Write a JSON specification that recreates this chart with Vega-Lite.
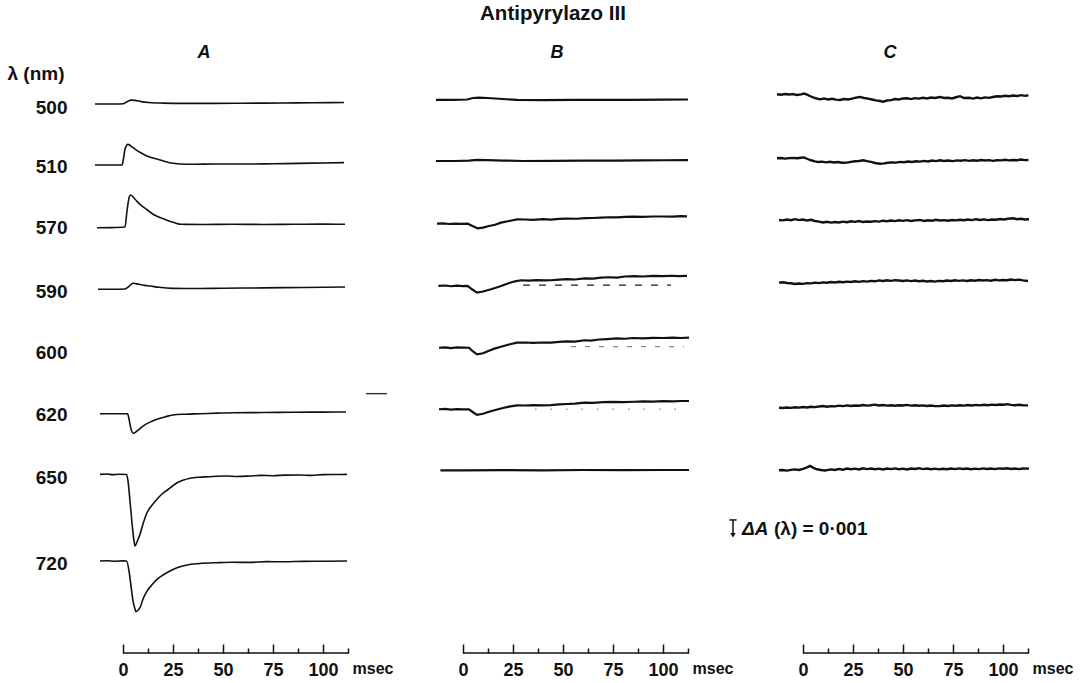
{
  "$schema": "https://vega.github.io/schema/vega-lite/v6.json",
  "padding": {"left": 7, "top": 3, "right": 5, "bottom": 5},
  "config": {"view": {"stroke": null}, "font": "Liberation Sans", "axis": {"grid": false}},
  "title": {"text": "Antipyrylazo III", "fontSize": 20.5, "fontWeight": "bold", "color": "#111", "anchor": "middle", "dx": 13, "offset": 20},
  "spacing": 86,
  "bounds": "flush",
  "datasets": {
    "traces": [
      {"p": "A", "wl": "500", "t": [-14,-8,-3,0,2,4,6,9,13,20,30,45,60,80,95,110.5], "v": [36.6,36.6,36.6,36.62,36.75,36.86,36.84,36.76,36.7,36.66,36.64,36.64,36.65,36.67,36.68,36.7]},
      {"p": "A", "wl": "510", "t": [-14,-7,-0.5,0.3,1,2.5,5,7.5,10,13,17,21,25,32,40,50,62,75,88,100,110.5], "v": [32.53,32.53,32.53,33.0,33.6,33.91,33.69,33.46,33.27,33.08,32.93,32.77,32.65,32.58,32.59,32.6,32.6,32.62,32.64,32.67,32.69]},
      {"p": "A", "wl": "570", "t": [-13,-6,1,2,3,3.8,6,8.5,12,15,18.5,22,25.5,29,40,55,70,85,100,111], "v": [28.35,28.36,28.4,29.47,30.33,30.53,30.25,29.91,29.55,29.25,29.03,28.85,28.7,28.58,28.57,28.58,28.57,28.58,28.59,28.58]},
      {"p": "A", "wl": "590", "t": [-12.5,-5,1,3,5,8,11,13.5,18,25,35,50,70,90,111], "v": [24.25,24.25,24.27,24.45,24.65,24.58,24.51,24.47,24.38,24.31,24.3,24.32,24.34,24.37,24.4]},
      {"p": "A", "wl": "620", "t": [-11.5,-5,2.3,3,4,5.2,7,10,13,17,21,25,31,38.5,47,55,70,85,100,111.5], "v": [15.95,15.95,15.95,15.6,14.93,14.65,14.8,15.13,15.36,15.58,15.74,15.87,15.92,15.95,15.99,16.02,16.03,16.05,16.06,16.07]},
      {"p": "A", "wl": "650", "t": [-11.5,-8,-5,-2,1.8,2.5,3.5,4.5,5.5,6,7,8.5,10,12,14.5,17,19.5,22,24.5,27,30,33.5,38,43,47,52,57,63.5,69,75,81,88.5,94,100,106,112], "v": [11.91,11.93,11.89,11.92,11.9,11.47,10.13,8.67,7.47,7.13,7.4,7.91,8.6,9.35,9.85,10.25,10.6,10.85,11.1,11.35,11.52,11.65,11.72,11.75,11.78,11.8,11.77,11.8,11.84,11.82,11.86,11.87,11.84,11.89,11.9,11.91]},
      {"p": "A", "wl": "720", "t": [-11.5,-8,-4,0,1.8,3,4,5,6,6.5,7.5,8.5,10,12,14.5,17,20,23.5,27,32,38,47,55,63,72,80,90,100,112], "v": [6.13,6.15,6.12,6.14,6.13,5.47,4.47,3.47,2.93,2.75,2.85,3.02,3.6,4.13,4.55,4.91,5.2,5.47,5.68,5.87,5.96,6.02,6.05,6.04,6.09,6.08,6.11,6.12,6.13]},
      {"p": "B", "wl": "500", "t": [-13.5,-5,2,5,8,12,18,27,40,55,70,85,100,112.5], "v": [36.87,36.87,36.9,37.0,37.02,37.0,36.95,36.87,36.86,36.88,36.87,36.88,36.89,36.9]},
      {"p": "B", "wl": "510", "t": [-13.5,-4,3,7,12,20,30,45,60,75,90,100,112.5], "v": [32.8,32.8,32.82,32.87,32.86,32.83,32.8,32.81,32.82,32.83,32.84,32.85,32.86]},
      {"p": "B", "wl": "570", "t": [-13,-10,-7,-4,-1,2.3,5,7.3,10,13,16,19,23,27,31,35,40,44,48,52,57,61,65,69,73,77,81,85.5,90,95,100,105,109,112], "v": [28.62,28.64,28.6,28.63,28.61,28.62,28.45,28.31,28.36,28.47,28.55,28.69,28.8,28.91,28.9,28.88,28.92,28.89,28.94,28.96,28.95,28.99,29.0,29.02,29.05,29.04,29.08,29.09,29.07,29.1,29.1,29.09,29.12,29.11]},
      {"p": "B", "wl": "590", "t": [-12.3,-9,-6,-3,0,2.3,4.5,7,10,14,18,22,26,29,33,37,41,44,48,52,56,60.7,65,69,73,77,81,85.7,90,95,100,104,108,112], "v": [24.47,24.5,24.45,24.49,24.46,24.48,24.25,24.02,24.1,24.25,24.42,24.62,24.78,24.85,24.83,24.86,24.84,24.85,24.89,24.92,24.9,24.98,24.96,25.02,25.05,25.03,25.1,25.13,25.1,25.14,25.12,25.15,25.12,25.14]},
      {"p": "B", "wl": "600", "t": [-12,-9,-6,-3,0,3,5,7,10,13,15.7,19,23,27,31,35,40,44,48,52,56,60.7,64,68,72,77,81,85,90,95,100,105,109,113], "v": [20.35,20.38,20.33,20.37,20.36,20.35,20.1,19.91,19.98,20.15,20.29,20.42,20.57,20.69,20.7,20.67,20.7,20.69,20.74,20.78,20.76,20.85,20.82,20.9,20.93,20.98,20.95,21.0,20.97,21.01,21.0,21.03,21.0,21.02]},
      {"p": "B", "wl": "620", "t": [-12,-9,-6,-3,0,3,5,7,10,13,15.7,19,23,27,31,35,40,44,48,52,56,60.7,65,70,75,80,85.7,90,95,100,105,109,113], "v": [16.25,16.27,16.23,16.26,16.24,16.25,16.05,15.87,15.95,16.08,16.18,16.3,16.42,16.51,16.5,16.53,16.51,16.53,16.58,16.6,16.62,16.69,16.67,16.72,16.74,16.73,16.75,16.77,16.76,16.79,16.78,16.8,16.8]},
      {"p": "B", "wl": "650", "t": [-11.3,0,20,40,60,80,100,113], "v": [12.18,12.18,12.19,12.18,12.2,12.19,12.2,12.2]},
      {"p": "C", "wl": "500", "t": [-13,-11,-9,-7,-5,-3,-1,0.5,2,4,6,8.5,10.5,12.5,14.5,16.5,18.5,20.5,22.5,24.5,26.5,28.5,30.5,32.5,34.5,36.5,38.5,40,42,44,46,48,50,52,54,56,58,60,62,64,66,68.5,70.5,72.5,74.5,76.5,78.5,80.5,83,85,87,89,91,93,95,97,99,101,103,105,107,109,111,112.7], "v": [37.25,37.22,37.27,37.23,37.26,37.2,37.24,37.3,37.22,37.1,37.0,36.91,36.97,36.9,36.95,36.89,36.87,36.93,36.9,36.96,37.03,37.07,37.0,36.96,36.9,36.84,36.8,36.75,36.83,36.86,36.93,36.9,36.97,36.98,36.93,36.99,36.96,37.02,36.97,37.03,37.0,37.07,37.0,37.02,36.97,37.05,37.12,37.0,37.02,36.96,37.03,36.98,37.04,37.01,37.07,37.12,37.1,37.15,37.12,37.17,37.13,37.19,37.14,37.18]},
      {"p": "C", "wl": "510", "t": [-13,-11,-9,-7,-5,-3,-1,0.5,2,4,6,7.7,9.5,11.5,13.5,15.5,17.5,19.5,22,24,26,28,30,32,34,36,38.5,40.5,42.5,44.5,46.5,48.5,50.5,52.5,54.5,56.5,58.5,60.5,62.5,64.5,66.5,68.5,70.5,72.5,75,77,79,81,83,85,87,89,91,93,95,97,99,101,103,105,107,109,111,112.7], "v": [32.98,33.0,32.96,32.99,33.01,32.98,33.02,33.04,32.95,32.85,32.78,32.73,32.76,32.71,32.75,32.7,32.73,32.68,32.69,32.74,32.78,32.8,32.85,32.79,32.74,32.67,32.62,32.64,32.68,32.71,32.69,32.74,32.72,32.77,32.73,32.78,32.76,32.81,32.77,32.83,32.79,32.85,32.8,32.83,32.79,32.84,32.82,32.86,32.81,32.85,32.82,32.87,32.83,32.86,32.81,32.85,32.84,32.88,32.84,32.87,32.85,32.9,32.86,32.87]},
      {"p": "C", "wl": "570", "t": [-12,-10,-8,-6,-4,-2,0,2,4,6,8,10,12,14,16,18,20,22,24,26,28,30,32,34,36,38,40,42,44,46,48,50,52,54,56,58.5,60.5,62.5,64.5,66.5,68.5,70.5,72.5,74.5,76.5,78.5,80.5,82.5,84.5,86.5,88.5,90.5,92.5,94.5,96.5,98.5,100.5,102.5,105,107,109,111,113], "v": [28.87,28.84,28.9,28.85,28.92,28.86,28.9,28.83,28.88,28.8,28.76,28.7,28.75,28.69,28.73,28.7,28.76,28.72,28.78,28.74,28.8,28.73,28.77,28.75,28.79,28.76,28.82,28.78,28.83,28.79,28.85,28.81,28.86,28.8,28.84,28.87,28.8,28.85,28.82,28.88,28.83,28.86,28.82,28.87,28.84,28.88,28.85,28.9,28.86,28.92,28.87,28.91,28.86,28.9,28.88,28.93,28.9,28.95,28.98,28.92,28.95,28.9,28.92]},
      {"p": "C", "wl": "590", "t": [-12,-10,-8,-6,-4,-2,0,2,4,6,8,10,12,14,16,18,20,22,24,26,28,30,32,34,36,38,40,42,44,46,48,50,52,54,56,58,60,62,64,66,68,70,72,74,76,78,80,82,84,86,88,90,92,94,96,98,100,102,104,106,108,110,112.5], "v": [24.69,24.72,24.67,24.65,24.6,24.63,24.61,24.66,24.64,24.69,24.66,24.71,24.68,24.73,24.7,24.75,24.72,24.76,24.73,24.78,24.74,24.79,24.76,24.81,24.78,24.84,24.8,24.85,24.81,24.86,24.83,24.8,24.84,24.79,24.83,24.78,24.82,24.77,24.8,24.76,24.81,24.78,24.83,24.8,24.85,24.81,24.84,24.8,24.85,24.82,24.87,24.83,24.86,24.82,24.88,24.84,24.87,24.85,24.9,24.86,24.89,24.84,24.8]},
      {"p": "C", "wl": "620", "t": [-12,-10,-8,-6,-4,-2,0,2,4,6,8,10,12,14,16,18,20,22,24,26,28,30,32,34,36,38,40,42,44,46,48,50,52,54,56,58,60,62,64,66,68.5,70.5,72.5,74.5,76.5,78.5,80.5,82.5,84.5,86.5,88.5,90.5,92.5,94.5,96.5,98.5,100.5,102,104,106,108,110,112.5], "v": [16.35,16.33,16.37,16.34,16.38,16.36,16.4,16.37,16.42,16.39,16.43,16.47,16.42,16.46,16.44,16.49,16.46,16.51,16.47,16.5,16.48,16.53,16.49,16.52,16.56,16.5,16.53,16.49,16.52,16.48,16.52,16.5,16.54,16.49,16.52,16.48,16.51,16.47,16.5,16.46,16.47,16.5,16.47,16.51,16.48,16.52,16.49,16.53,16.5,16.54,16.51,16.55,16.52,16.56,16.53,16.57,16.55,16.59,16.54,16.52,16.55,16.52,16.51]},
      {"p": "C", "wl": "650", "t": [-12,-10,-8,-6,-4,-2,0,2,3.5,5,7,9,11,14,16,18,20,22,24,26,28,30,32,34,36,38,40,42,44,46,48,50,52,54,56,58,60,62,64,66,68,70,72,74,76,78,80,82,84,86,88,90,92,94,96,98,100,102,104,106,108,110,113], "v": [12.18,12.2,12.16,12.21,12.24,12.2,12.28,12.38,12.47,12.36,12.25,12.2,12.17,12.24,12.2,12.27,12.22,12.3,12.25,12.29,12.24,12.31,12.26,12.3,12.25,12.29,12.24,12.3,12.26,12.31,12.25,12.29,12.24,12.3,12.27,12.32,12.26,12.3,12.25,12.29,12.24,12.28,12.25,12.3,12.26,12.31,12.27,12.3,12.25,12.29,12.26,12.31,12.27,12.3,12.26,12.31,12.28,12.32,12.27,12.3,12.26,12.3,12.29]}
    ],
    "refs": [
      {"p": "B", "wl": "590", "kind": "dashed", "t": 30, "v": 24.53},
      {"p": "B", "wl": "590", "kind": "dashed", "t": 104, "v": 24.53},
      {"p": "B", "wl": "600", "kind": "faint", "t": 54, "v": 20.42},
      {"p": "B", "wl": "600", "kind": "faint", "t": 110.5, "v": 20.42},
      {"p": "B", "wl": "620", "kind": "dotted", "t": 36, "v": 16.25},
      {"p": "B", "wl": "620", "kind": "dotted", "t": 110, "v": 16.25},
      {"p": "A", "wl": "stray", "kind": "stray", "t": 121.5, "v": 17.29},
      {"p": "A", "wl": "stray", "kind": "stray", "t": 132, "v": 17.29}
    ],
    "axisline": [{"t0": 0, "t1": 113, "v": 0}],
    "bar": [{"t": -35, "c0": -36.8, "c1": -33.2, "top": 8.87, "bottom": 7.85}],
    "note": [
      {"part": "sym", "t": -30.5, "v": 8.27, "txt": "ΔA"},
      {"part": "val", "t": -14.5, "v": 8.27, "txt": "(λ) = 0·001"}
    ]
  },
  "hconcat": [
    {
      "width": 254, "height": 592,
      "title": {"text": "A", "fontSize": 18, "fontStyle": "italic", "fontWeight": "bold", "color": "#111", "dx": -18, "offset": -1, "frame": "group"},
      "resolve": {"axis": {"x": "independent", "y": "independent"}},
      "layer": [
        {
          "data": {"name": "traces"},
          "transform": [{"filter": "datum.p === 'A'"}, {"flatten": ["t", "v"]}],
          "mark": {"type": "line", "color": "#111", "strokeWidth": 1.6, "interpolate": "monotone", "clip": false},
          "encoding": {
            "x": {"field": "t", "type": "quantitative", "scale": {"domain": [-14, 113]},
              "axis": {"values": [0, 25, 50, 75, 100], "tickSize": -9, "tickWidth": 1.5, "tickColor": "#111", "domain": false, "grid": false, "labelFontSize": 18, "labelFontWeight": "bold", "labelColor": "#111", "labelPadding": 17, "labelFlush": false, "title": "msec", "titleFontSize": 16, "titleFontWeight": "bold", "titleColor": "#111", "titleAlign": "left", "titleBaseline": "middle", "titleX": 257, "titleY": 15}},
            "y": {"field": "v", "type": "quantitative", "scale": {"domain": [0, 39.467]},
              "axis": {"orient": "left", "values": [36.35, 32.42, 28.35, 24.13, 20.02, 15.91, 11.73, 5.95], "labelExpr": "datum.value > 34 ? '500' : datum.value > 30 ? '510' : datum.value > 26 ? '570' : datum.value > 22 ? '590' : datum.value > 18 ? '600' : datum.value > 14 ? '620' : datum.value > 9 ? '650' : '720'", "domain": false, "ticks": false, "grid": false, "labelFontSize": 19, "labelFontWeight": "bold", "labelColor": "#111", "labelPadding": 28, "labelBaseline": "middle", "title": "λ (nm)", "titleAngle": 0, "titleAlign": "left", "titleBaseline": "middle", "titleX": -88, "titleY": 12, "titleFontSize": 19, "titleFontWeight": "bold", "titleColor": "#111"}},
            "detail": {"field": "wl"}
          }
        },
        {
          "data": {"name": "axisline"},
          "mark": {"type": "rule", "color": "#111", "strokeWidth": 1.5},
          "encoding": {
            "x": {"field": "t0", "type": "quantitative", "scale": {"domain": [-14, 113]},
              "axis": {"values": [12.5, 37.5, 62.5, 87.5, 112.5], "orient": "bottom", "tickSize": -5, "tickWidth": 1.5, "tickColor": "#111", "labels": false, "domain": false, "grid": false, "title": null}},
            "x2": {"field": "t1"},
            "y": {"field": "v", "type": "quantitative", "scale": {"domain": [0, 39.467]}, "axis": null}
          }
        },
        {
          "data": {"name": "refs"},
          "transform": [{"filter": "datum.p === 'A'"}],
          "mark": {"type": "line", "color": "#333", "strokeWidth": 1.4, "clip": false},
          "encoding": {
            "x": {"field": "t", "type": "quantitative", "scale": {"domain": [-14, 113]}, "axis": null},
            "y": {"field": "v", "type": "quantitative", "scale": {"domain": [0, 39.467]}, "axis": null},
            "detail": {"field": "wl"}
          }
        }
      ]
    },
    {
      "width": 254, "height": 592,
      "title": {"text": "B", "fontSize": 18, "fontStyle": "italic", "fontWeight": "bold", "color": "#111", "dx": -5, "offset": -1, "frame": "group"},
      "resolve": {"axis": {"x": "independent"}},
      "layer": [
        {
          "data": {"name": "traces"},
          "transform": [{"filter": "datum.p === 'B'"}, {"flatten": ["t", "v"]}],
          "mark": {"type": "line", "color": "#111", "strokeWidth": 2.2, "clip": false},
          "encoding": {
            "x": {"field": "t", "type": "quantitative", "scale": {"domain": [-14, 113]},
              "axis": {"values": [0, 25, 50, 75, 100], "tickSize": -9, "tickWidth": 1.5, "tickColor": "#111", "domain": false, "grid": false, "labelFontSize": 18, "labelFontWeight": "bold", "labelColor": "#111", "labelPadding": 17, "labelFlush": false, "title": "msec", "titleFontSize": 16, "titleFontWeight": "bold", "titleColor": "#111", "titleAlign": "left", "titleBaseline": "middle", "titleX": 257, "titleY": 15}},
            "y": {"field": "v", "type": "quantitative", "scale": {"domain": [0, 39.467]}, "axis": null},
            "detail": {"field": "wl"}
          }
        },
        {
          "data": {"name": "axisline"},
          "mark": {"type": "rule", "color": "#111", "strokeWidth": 1.5},
          "encoding": {
            "x": {"field": "t0", "type": "quantitative", "scale": {"domain": [-14, 113]},
              "axis": {"values": [12.5, 37.5, 62.5, 87.5, 112.5], "orient": "bottom", "tickSize": -5, "tickWidth": 1.5, "tickColor": "#111", "labels": false, "domain": false, "grid": false, "title": null}},
            "x2": {"field": "t1"},
            "y": {"field": "v", "type": "quantitative", "scale": {"domain": [0, 39.467]}, "axis": null}
          }
        },
        {
          "data": {"name": "refs"},
          "transform": [{"filter": "datum.p === 'B'"}],
          "mark": {"type": "line", "strokeWidth": 1.3, "clip": false},
          "encoding": {
            "x": {"field": "t", "type": "quantitative", "scale": {"domain": [-14, 113]}, "axis": null},
            "y": {"field": "v", "type": "quantitative", "scale": {"domain": [0, 39.467]}, "axis": null},
            "detail": {"field": "wl"},
            "color": {"field": "kind", "type": "nominal", "scale": {"domain": ["dashed", "faint", "dotted"], "range": ["#222", "#888", "#999"]}, "legend": null},
            "strokeDash": {"field": "kind", "type": "nominal", "scale": {"domain": ["dashed", "faint", "dotted"], "range": [[7, 9], [5, 9], [1.5, 14]]}, "legend": null}
          }
        }
      ]
    },
    {
      "width": 254, "height": 592,
      "title": {"text": "C", "fontSize": 18, "fontStyle": "italic", "fontWeight": "bold", "color": "#111", "dx": -12, "offset": -1, "frame": "group"},
      "resolve": {"axis": {"x": "independent"}},
      "layer": [
        {
          "data": {"name": "traces"},
          "transform": [{"filter": "datum.p === 'C'"}, {"flatten": ["t", "v"]}],
          "mark": {"type": "line", "color": "#111", "strokeWidth": 2.4, "clip": false},
          "encoding": {
            "x": {"field": "t", "type": "quantitative", "scale": {"domain": [-14, 113]},
              "axis": {"values": [0, 25, 50, 75, 100], "tickSize": -9, "tickWidth": 1.5, "tickColor": "#111", "domain": false, "grid": false, "labelFontSize": 18, "labelFontWeight": "bold", "labelColor": "#111", "labelPadding": 17, "labelFlush": false, "title": "msec", "titleFontSize": 16, "titleFontWeight": "bold", "titleColor": "#111", "titleAlign": "left", "titleBaseline": "middle", "titleX": 257, "titleY": 15}},
            "y": {"field": "v", "type": "quantitative", "scale": {"domain": [0, 39.467]}, "axis": null},
            "detail": {"field": "wl"}
          }
        },
        {
          "data": {"name": "axisline"},
          "mark": {"type": "rule", "color": "#111", "strokeWidth": 1.5},
          "encoding": {
            "x": {"field": "t0", "type": "quantitative", "scale": {"domain": [-14, 113]},
              "axis": {"values": [12.5, 37.5, 62.5, 87.5, 112.5], "orient": "bottom", "tickSize": -5, "tickWidth": 1.5, "tickColor": "#111", "labels": false, "domain": false, "grid": false, "title": null}},
            "x2": {"field": "t1"},
            "y": {"field": "v", "type": "quantitative", "scale": {"domain": [0, 39.467]}, "axis": null}
          }
        },
        {
          "data": {"name": "bar"},
          "mark": {"type": "rule", "color": "#111", "strokeWidth": 1.5, "clip": false},
          "encoding": {
            "x": {"field": "t", "type": "quantitative", "scale": {"domain": [-14, 113]}, "axis": null},
            "y": {"field": "top", "type": "quantitative", "scale": {"domain": [0, 39.467]}, "axis": null},
            "y2": {"field": "bottom"}
          }
        },
        {
          "data": {"name": "bar"},
          "mark": {"type": "rule", "color": "#111", "strokeWidth": 1.5, "clip": false},
          "encoding": {
            "x": {"field": "c0", "type": "quantitative", "scale": {"domain": [-14, 113]}, "axis": null},
            "x2": {"field": "c1"},
            "y": {"field": "top", "type": "quantitative", "scale": {"domain": [0, 39.467]}, "axis": null}
          }
        },
        {
          "data": {"name": "bar"},
          "mark": {"type": "point", "shape": "triangle-down", "filled": true, "color": "#111", "size": 30, "opacity": 1, "clip": false},
          "encoding": {
            "x": {"field": "t", "type": "quantitative", "scale": {"domain": [-14, 113]}, "axis": null},
            "y": {"field": "bottom", "type": "quantitative", "scale": {"domain": [0, 39.467]}, "axis": null}
          }
        },
        {
          "data": {"name": "note"},
          "transform": [{"filter": "datum.part === 'sym'"}],
          "mark": {"type": "text", "align": "left", "baseline": "middle", "fontSize": 19, "fontWeight": "bold", "fontStyle": "italic", "color": "#111", "clip": false},
          "encoding": {
            "x": {"field": "t", "type": "quantitative", "scale": {"domain": [-14, 113]}, "axis": null},
            "y": {"field": "v", "type": "quantitative", "scale": {"domain": [0, 39.467]}, "axis": null},
            "text": {"field": "txt"}
          }
        },
        {
          "data": {"name": "note"},
          "transform": [{"filter": "datum.part === 'val'"}],
          "mark": {"type": "text", "align": "left", "baseline": "middle", "fontSize": 19, "fontWeight": "bold", "color": "#111", "clip": false},
          "encoding": {
            "x": {"field": "t", "type": "quantitative", "scale": {"domain": [-14, 113]}, "axis": null},
            "y": {"field": "v", "type": "quantitative", "scale": {"domain": [0, 39.467]}, "axis": null},
            "text": {"field": "txt"}
          }
        }
      ]
    }
  ]
}
